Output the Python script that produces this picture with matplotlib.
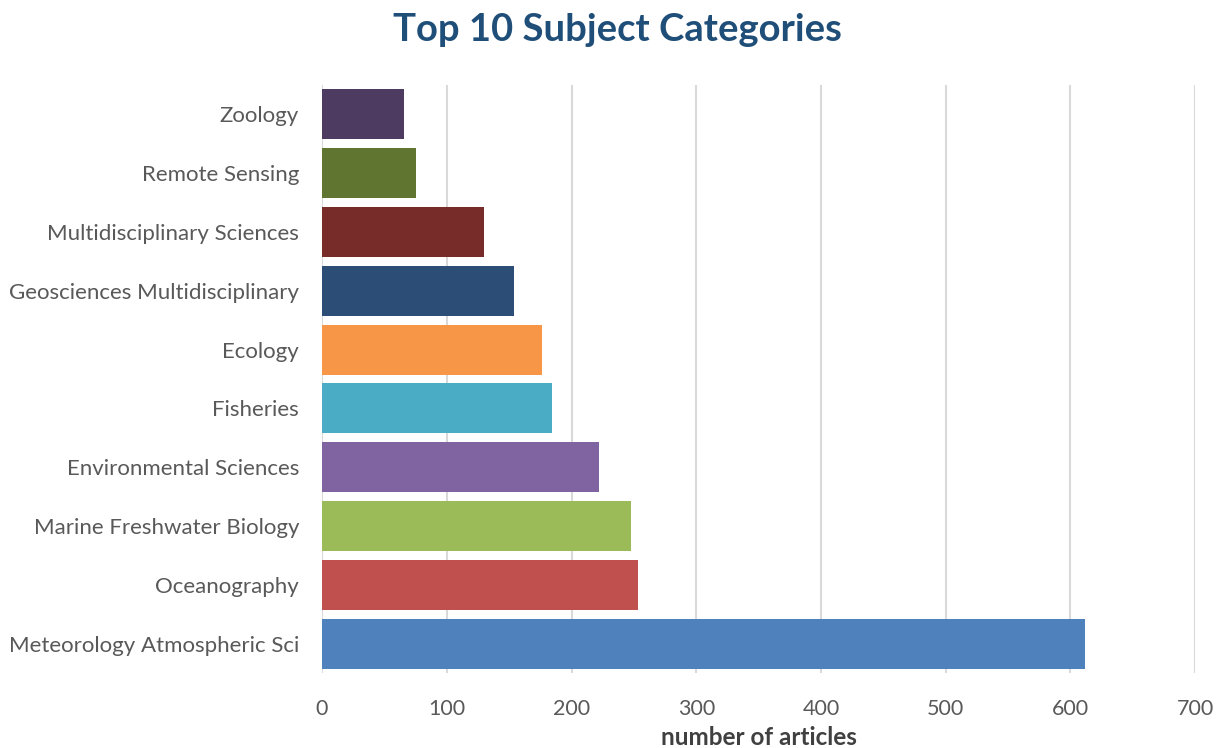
import matplotlib
matplotlib.use("Agg")
import matplotlib.pyplot as plt

categories = ["Meteorology Atmospheric Sci", "Oceanography", "Marine Freshwater Biology",
              "Environmental Sciences", "Fisheries", "Ecology",
              "Geosciences Multidisciplinary", "Multidisciplinary Sciences",
              "Remote Sensing", "Zoology"]
values = [612, 253, 248, 222, 184, 176, 154, 130, 75, 66]
colors = ["#4F81BD", "#C0504D", "#9BBB59", "#8064A2", "#4BACC6", "#F79646",
          "#2C4D75", "#772C2A", "#5F7530", "#4D3B62"]
xticks = [0, 100, 200, 300, 400, 500, 600, 700]

plt.rcParams['font.family'] = ['Lato', 'DejaVu Sans']

fig = plt.figure(figsize=(12.17, 7.48), dpi=100)
ax = fig.add_axes([0.2646, 0.1003, 0.7175, 0.7861])

ax.barh(range(len(categories)), values, height=0.85, color=colors, zorder=3)
ax.set_ylim(-0.5, len(categories) - 0.5)
ax.set_xlim(0, 700)
ax.set_xticks(xticks)
ax.set_yticks(range(len(categories)))
ax.set_yticklabels(categories)
ax.xaxis.grid(True, color="#D9D9D9", linewidth=1.5, zorder=0)
ax.set_axisbelow(True)
for s in ax.spines.values():
    s.set_visible(False)
ax.tick_params(axis='x', length=0, labelsize=15.5, colors="#595959", pad=19)
ax.tick_params(axis='y', length=0, labelsize=16, colors="#595959", pad=16.5)

ax.set_xlabel("number of articles", fontsize=17.5, fontweight='bold', color="#404040", labelpad=5)
fig.suptitle("Top 10 Subject Categories", x=0.507, y=0.982, fontsize=27.5, fontweight='bold',
             color="#1F4E79", va='top')

fig.savefig("out.png", dpi=100)
